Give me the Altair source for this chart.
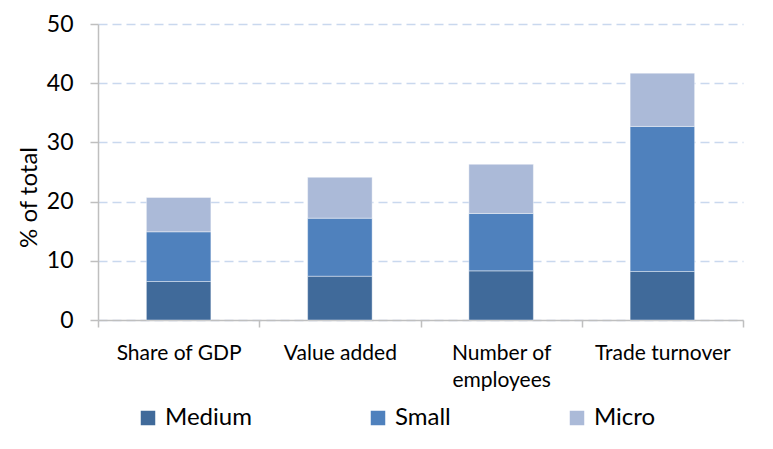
import altair as alt
import pandas as pd

categories = ["Share of GDP", "Value added", "Number of employees", "Trade turnover"]
sizes = ["Medium", "Small", "Micro"]
medium = [6.5, 7.4, 8.3, 8.2]
small = [8.4, 9.8, 9.7, 24.5]
micro = [5.8, 6.9, 8.3, 9.0]
colors = ["#406A9A", "#4F81BD", "#ABBAD8"]

rows = []
for i, c in enumerate(categories):
    for j, (s, vals) in enumerate(zip(sizes, [medium, small, micro])):
        rows.append({"category": c, "size": s, "value": vals[i], "order": j})
df = pd.DataFrame(rows)

FONT = "Lato"

chart = alt.Chart(df).mark_bar(
    stroke="white", strokeWidth=0.8, strokeOpacity=0.5,
    width=alt.RelativeBandSize(0.4),
).encode(
    x=alt.X("category:N", sort=categories,
            scale=alt.Scale(paddingInner=0, paddingOuter=0),
            axis=alt.Axis(title=None, labelAngle=0, tickBand="extent", labelPadding=15,
                          labelFontSize=21, labelColor="#000000", labelFont=FONT,
                          domainColor="#BFBFBF", tickColor="#BFBFBF", tickSize=7,
                          domainWidth=1.5, tickWidth=1.5,
                          labelExpr="datum.label == 'Number of employees' ? ['Number of', 'employees'] : datum.label",
                          labelLineHeight=27, labelBaseline="top")),
    y=alt.Y("value:Q", stack="zero", scale=alt.Scale(domain=[0, 50], nice=False),
            axis=alt.Axis(title="% of total", values=[0, 10, 20, 30, 40, 50],
                          titleFontSize=24, titleFont=FONT, titleFontWeight="normal",
                          titleColor="#000000", titlePadding=5, titleY=173,
                          labelFontSize=23, labelFont=FONT, labelColor="#000000",
                          labelPadding=17,
                          domainColor="#BFBFBF", tickColor="#BFBFBF", tickSize=8,
                          domainWidth=1.5, tickWidth=1.5,
                          grid=True,
                          gridColor="#C9D8EE", gridDash=[9, 5], gridWidth=1.3)),
    color=alt.Color("size:N", sort=sizes, scale=alt.Scale(domain=sizes, range=colors),
                    legend=alt.Legend(title=None, orient="none", direction="horizontal",
                                      legendX=38, legendY=382,
                                      symbolType="square", symbolSize=210,
                                      symbolStrokeWidth=0,
                                      labelFontSize=24, labelFont=FONT, labelColor="#000000",
                                      columnPadding=114, labelOffset=5)),
    order=alt.Order("order:Q"),
).properties(
    width=645, height=296,
    autosize=alt.AutoSizeParams(type="none"),
    padding={"left": 90, "top": 16, "right": 22, "bottom": 110},
).configure_view(stroke=None)

chart.save("out.html", embed_options={"renderer": "svg", "actions": False})
